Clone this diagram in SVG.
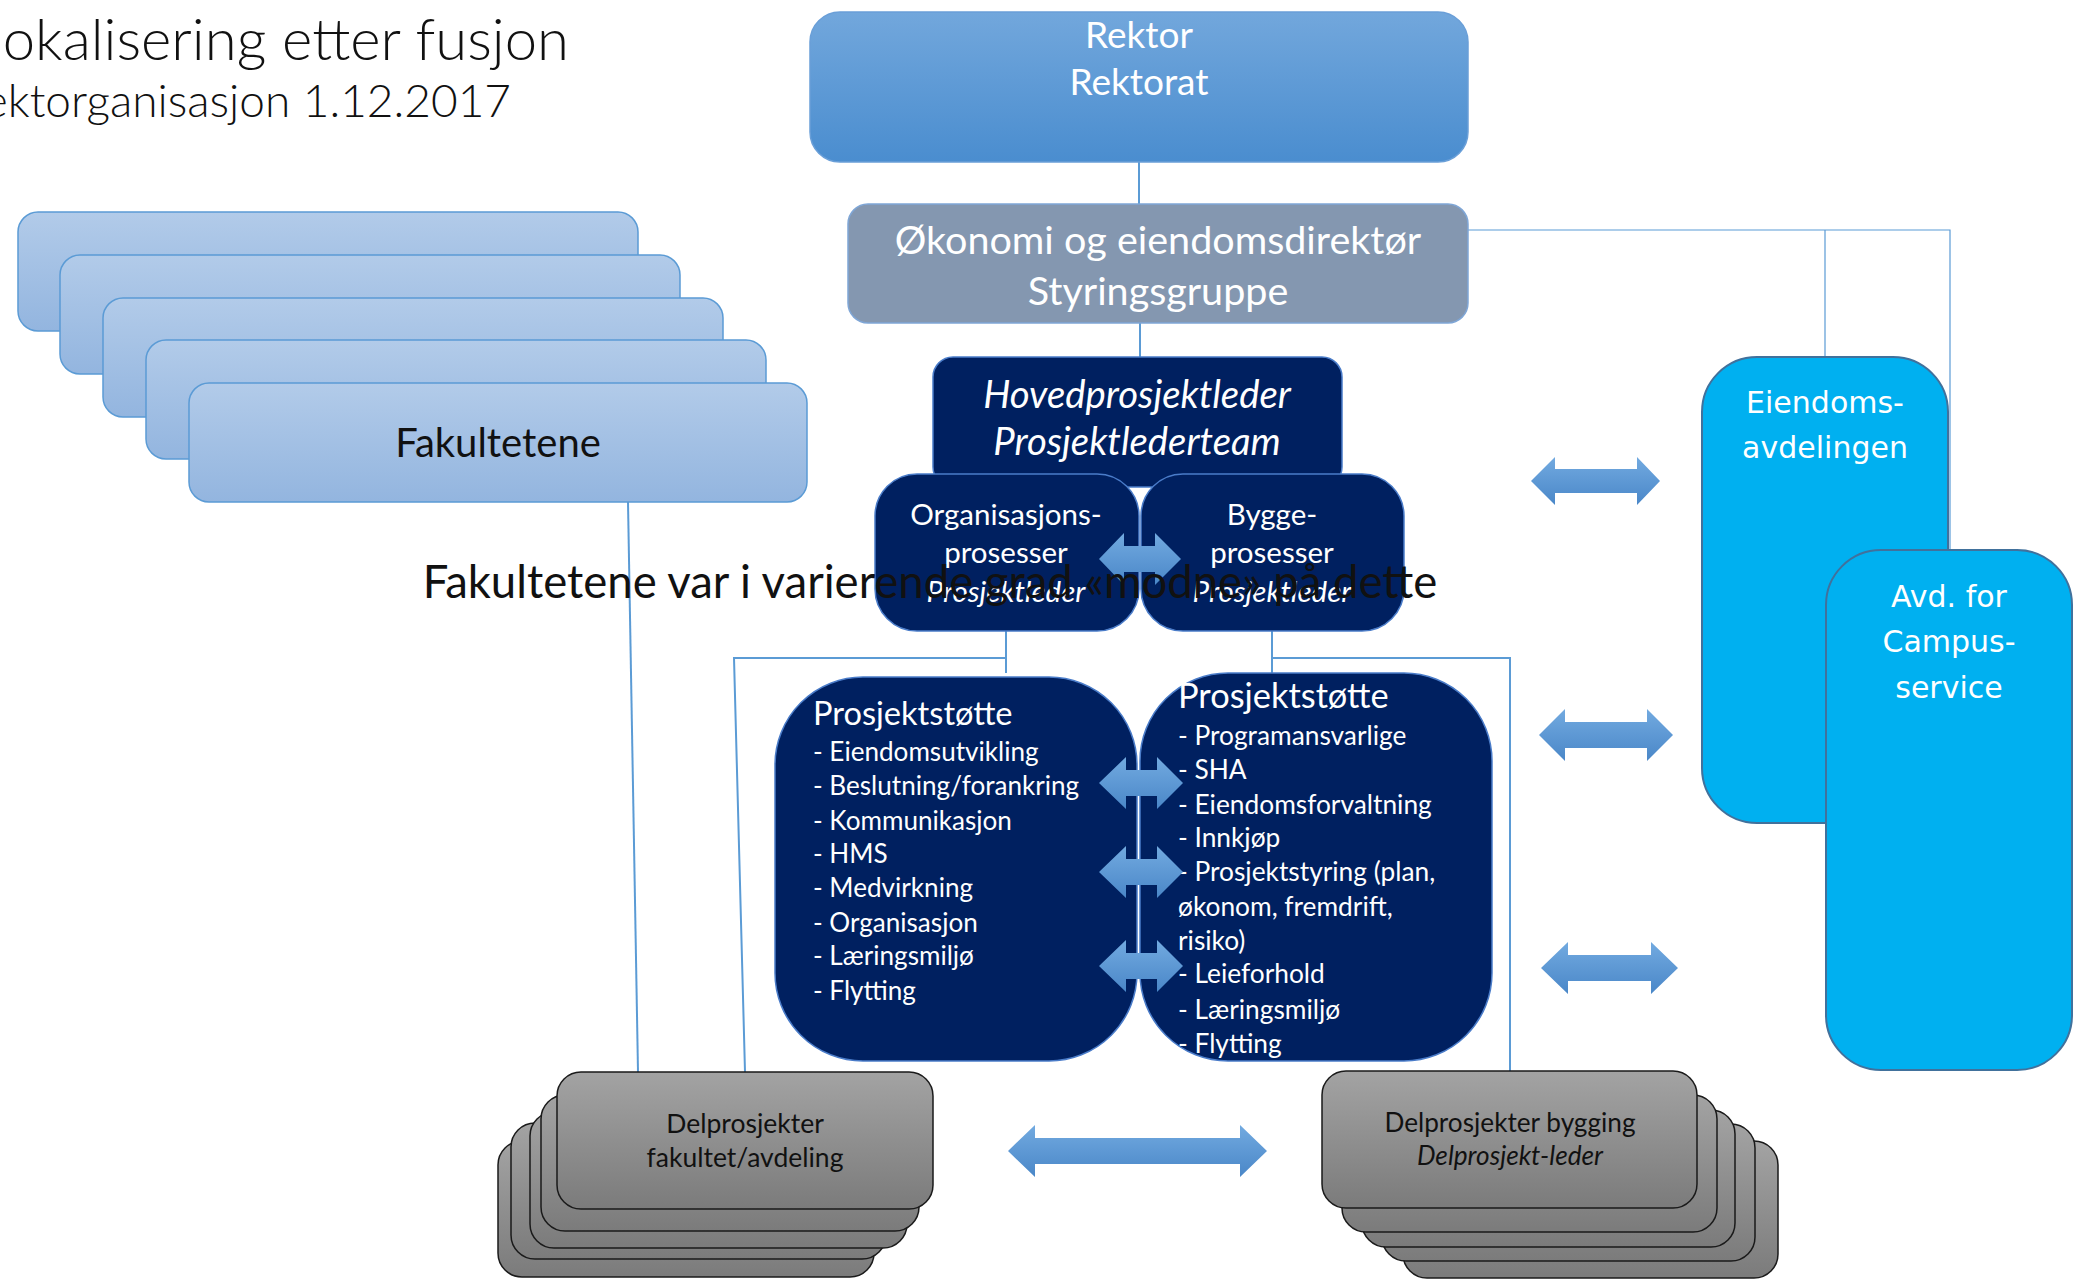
<svg xmlns="http://www.w3.org/2000/svg" width="2075" height="1282" viewBox="0 0 2075 1282">
<defs>
<linearGradient id="gRektor" x1="0" y1="0" x2="0" y2="1"><stop offset="0" stop-color="#72a7dc"/><stop offset="1" stop-color="#4a8dcf"/></linearGradient>
<linearGradient id="gFak" x1="0" y1="0" x2="0" y2="1"><stop offset="0" stop-color="#b2cbe9"/><stop offset="1" stop-color="#93b5df"/></linearGradient>
<linearGradient id="gGray" x1="0" y1="0" x2="0" y2="1"><stop offset="0" stop-color="#a3a3a3"/><stop offset="1" stop-color="#7b7b7b"/></linearGradient>
<linearGradient id="gArrow" x1="0" y1="0" x2="0" y2="1"><stop offset="0" stop-color="#72aae0"/><stop offset="1" stop-color="#4a87c8"/></linearGradient>
</defs>
<style>
.cal{font-family:Lato,"Liberation Sans",sans-serif;}
.dv{font-family:"DejaVu Sans",sans-serif;fill:#fff;font-size:30px;text-anchor:middle;}
.w{fill:#fff;}
.k{fill:#111;}
.mid{text-anchor:middle;}
.it{font-style:italic;}
.fak{fill:url(#gFak);stroke:#5b9bd5;stroke-width:1.5;}
.gray{fill:url(#gGray);stroke:#1a1a1a;stroke-width:1.5;}
.navy{fill:#002060;stroke:#4a7cc9;stroke-width:1.5;}
.cyan{fill:#00b0f0;stroke:#41719c;stroke-width:2;}
.conn{fill:none;stroke:#5b9bd5;stroke-width:2;}
.thin{fill:none;stroke:#5b9bd5;stroke-width:1.2;}
.arrow{fill:url(#gArrow);stroke:none;}
</style>
<rect width="2075" height="1282" fill="#fff"/>

<g id="title">
<text class="cal k" x="569" y="60" font-size="58" font-weight="300" text-anchor="end">okalisering etter fusjon</text>
<text class="cal k" x="511" y="117" font-size="46" font-weight="300" text-anchor="end">ektorganisasjon 1.12.2017</text>
</g>

<g id="connectors">
<path class="conn" d="M1139 162 V204"/>
<path class="conn" d="M1140 323 V357"/>
<path class="thin" d="M1405 230 H1950 V551 M1825 230 V357"/>
<path class="conn" d="M628 502 L638 1072"/>
<path class="conn" d="M1006 631 V673 M1006 658 H734 L745 1072"/>
<path class="conn" d="M1272 631 V676 M1272 658 H1510 V1071"/>
</g>

<g id="fakultetene">
<rect class="fak" x="18" y="212" width="620" height="119" rx="20"/>
<rect class="fak" x="60" y="255" width="620" height="119" rx="20"/>
<rect class="fak" x="103" y="298" width="620" height="119" rx="20"/>
<rect class="fak" x="146" y="340" width="620" height="119" rx="20"/>
<rect class="fak" x="189" y="383" width="618" height="119" rx="20"/>
<text class="cal k mid" x="498" y="457" font-size="40">Fakultetene</text>
</g>

<g id="rektor">
<rect x="810" y="12" width="658" height="150" rx="30" fill="url(#gRektor)" stroke="#6a9fd8" stroke-width="1.5"/>
<text class="cal w mid" x="1139" y="48" font-size="37">Rektor</text>
<text class="cal w mid" x="1139" y="95" font-size="37">Rektorat</text>
</g>

<g id="okonomi">
<rect x="848" y="204" width="620" height="119" rx="20" fill="#8497b0" stroke="#7fa6d6" stroke-width="1.5"/>
<text class="cal w mid" x="1158" y="254" font-size="39.5">Økonomi og eiendomsdirektør</text>
<text class="cal w mid" x="1158" y="305" font-size="39.5">Styringsgruppe</text>
</g>

<g id="hovedprosjektleder">
<rect class="navy" x="933" y="357" width="409" height="130" rx="20"/>
<text class="cal w mid it" x="1137" y="408" font-size="38.3">Hovedprosjektleder</text>
<text class="cal w mid it" x="1137" y="455" font-size="38.3">Prosjektlederteam</text>
</g>

<g id="organisasjonsprosesser">
<rect class="navy" x="875" y="474" width="264" height="157" rx="42"/>
<text class="cal w mid" x="1006" y="525" font-size="29.5">Organisasjons-</text>
<text class="cal w mid" x="1006" y="563" font-size="29.5">prosesser</text>
<text class="cal w mid it" x="1006" y="602" font-size="29.5">Prosjektleder</text>
</g>

<g id="byggeprosesser">
<rect class="navy" x="1141" y="474" width="263" height="157" rx="42"/>
<text class="cal w mid" x="1272" y="525" font-size="29.5">Bygge-</text>
<text class="cal w mid" x="1272" y="563" font-size="29.5">prosesser</text>
<text class="cal w mid it" x="1272" y="602" font-size="29.5">Prosjektleder</text>
</g>

<g id="prosjektstotte-org">
<rect class="navy" x="775" y="677" width="362" height="384" rx="88"/>
<text class="cal w" x="813" y="725" font-size="32.6">Prosjektstøtte</text>
<text class="cal w" font-size="26.1">
<tspan x="813" y="761">- Eiendomsutvikling</tspan>
<tspan x="813" y="795">- Beslutning/forankring</tspan>
<tspan x="813" y="830">- Kommunikasjon</tspan>
<tspan x="813" y="863">- HMS</tspan>
<tspan x="813" y="897">- Medvirkning</tspan>
<tspan x="813" y="932">- Organisasjon</tspan>
<tspan x="813" y="965">- Læringsmiljø</tspan>
<tspan x="813" y="1000">- Flytting</tspan>
</text>
</g>

<g id="prosjektstotte-bygg">
<rect class="navy" x="1140" y="673" width="352" height="388" rx="88"/>
<text class="cal w" x="1178" y="708" font-size="34.4">Prosjektstøtte</text>
<text class="cal w" font-size="26.3">
<tspan x="1178" y="745">- Programansvarlige</tspan>
<tspan x="1178" y="779">- SHA</tspan>
<tspan x="1178" y="814">- Eiendomsforvaltning</tspan>
<tspan x="1178" y="847">- Innkjøp</tspan>
<tspan x="1178" y="881">- Prosjektstyring (plan,</tspan>
<tspan x="1178" y="916">økonom, fremdrift,</tspan>
<tspan x="1178" y="950">risiko)</tspan>
<tspan x="1178" y="983">- Leieforhold</tspan>
<tspan x="1178" y="1019">- Læringsmiljø</tspan>
<tspan x="1178" y="1053">- Flytting</tspan>
</text>
</g>

<g id="eiendomsavdelingen">
<rect class="cyan" x="1702" y="357" width="246" height="466" rx="55"/>
<text class="dv" x="1825" y="413">Eiendoms-</text>
<text class="dv" x="1825" y="458">avdelingen</text>
</g>

<g id="campusservice">
<rect class="cyan" x="1826" y="550" width="246" height="520" rx="55"/>
<text class="dv" x="1949" y="607">Avd. for</text>
<text class="dv" x="1949" y="652">Campus-</text>
<text class="dv" x="1949" y="698">service</text>
</g>

<g id="delprosjekter-fakultet">
<rect class="gray" x="498" y="1141" width="376" height="136" rx="24"/>
<rect class="gray" x="511" y="1123" width="375" height="136" rx="24"/>
<rect class="gray" x="530" y="1112" width="377" height="136" rx="24"/>
<rect class="gray" x="541" y="1095" width="378" height="136" rx="24"/>
<rect class="gray" x="557" y="1072" width="376" height="137" rx="24"/>
<text class="cal k mid" x="745" y="1133" font-size="26.5">Delprosjekter</text>
<text class="cal k mid" x="745" y="1167" font-size="26.5">fakultet/avdeling</text>
</g>

<g id="delprosjekter-bygging">
<rect class="gray" x="1403" y="1141" width="375" height="137" rx="24"/>
<rect class="gray" x="1382" y="1124" width="373" height="137" rx="24"/>
<rect class="gray" x="1362" y="1110" width="373" height="137" rx="24"/>
<rect class="gray" x="1342" y="1095" width="375" height="137" rx="24"/>
<rect class="gray" x="1322" y="1071" width="375" height="137" rx="24"/>
<text class="cal k mid" x="1510" y="1132" font-size="26.2">Delprosjekter bygging</text>
<text class="cal k mid it" x="1510" y="1165" font-size="26.2">Delprosjekt-leder</text>
</g>

<g id="arrows">
<path class="arrow" d="M1099 559 L1124 533 V546 H1155 V533 L1181 559 L1155 585 V572 H1124 V585 Z"/>
<path class="arrow" d="M1099 783 L1126 757 V770 H1157 V757 L1183 783 L1157 809 V796 H1126 V809 Z"/>
<path class="arrow" d="M1099 872 L1126 846 V859 H1157 V846 L1183 872 L1157 898 V885 H1126 V898 Z"/>
<path class="arrow" d="M1099 966 L1126 940 V953 H1157 V940 L1183 966 L1157 992 V979 H1126 V992 Z"/>
<path class="arrow" d="M1531 481 L1555 457 V469 H1637 V457 L1660 481 L1637 505 V493 H1555 V505 Z"/>
<path class="arrow" d="M1539 735 L1565 709 V722 H1647 V709 L1673 735 L1647 761 V748 H1565 V761 Z"/>
<path class="arrow" d="M1541 968 L1568 942 V955 H1651 V942 L1678 968 L1651 994 V981 H1568 V994 Z"/>
<path class="arrow" d="M1008 1151 L1035 1125 V1138 H1240 V1125 L1267 1151 L1240 1177 V1164 H1035 V1177 Z"/>
</g>

<text class="cal k mid" x="930" y="598" font-size="45.5">Fakultetene var i varierende grad «modne» på dette</text>
</svg>
